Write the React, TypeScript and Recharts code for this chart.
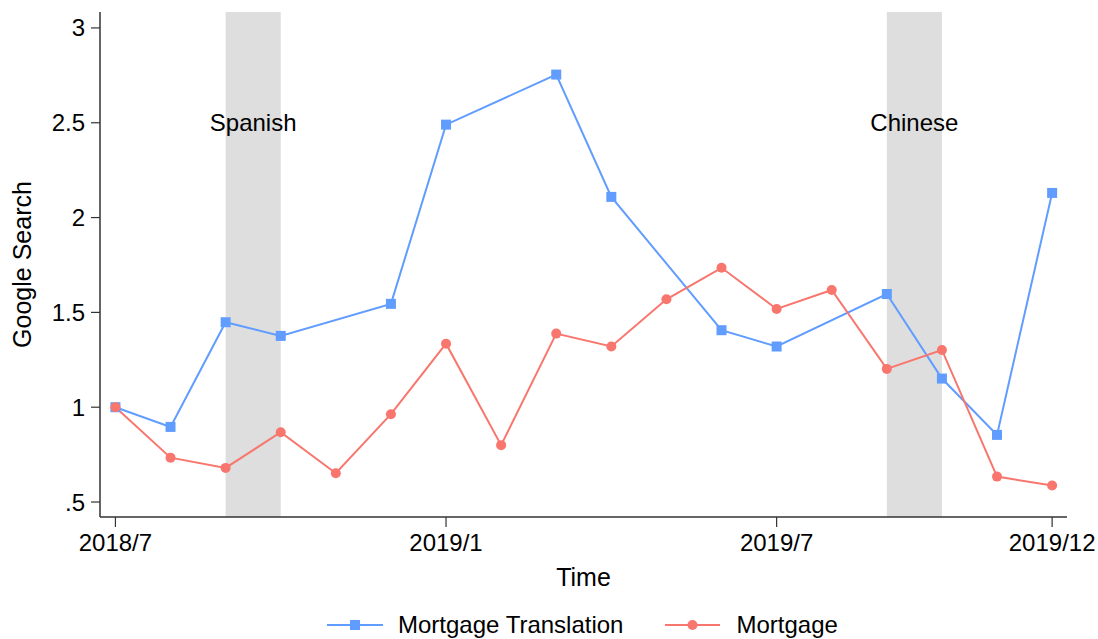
import React from 'react';
import { ComposedChart, Line, XAxis, YAxis, ReferenceArea, Legend } from 'recharts';

const monthLabels = [
  '2018/7', '2018/8', '2018/9', '2018/10', '2018/11', '2018/12',
  '2019/1', '2019/2', '2019/3', '2019/4', '2019/5', '2019/6',
  '2019/7', '2019/8', '2019/9', '2019/10', '2019/11', '2019/12',
];
const translationValues: (number | null)[] = [
  1.0, 0.896, 1.448, 1.376, null, 1.545,
  2.49, null, 2.754, 2.109, null, 1.406,
  1.32, null, 1.597, 1.151, 0.854, 2.13,
];
const mortgageValues: number[] = [
  1.0, 0.734, 0.68, 0.868, 0.652, 0.963,
  1.335, 0.8, 1.388, 1.32, 1.569, 1.735,
  1.518, 1.618, 1.202, 1.302, 0.634, 0.587,
];
const xTickLabels = ['2018/7', '2019/1', '2019/7', '2019/12'];
const yTicks = [0.5, 1, 1.5, 2, 2.5, 3];
const bandStarts = ['2018/9', '2019/9'];
const bandEnds = ['2018/10', '2019/10'];
const bandLabels = ['Spanish', 'Chinese'];

const BLUE = '#619CFF';
const RED = '#F8766D';
const FONT = '"Liberation Sans", Arial, sans-serif';

const data = monthLabels.map((m, i) => ({
  idx: i,
  month: m,
  translation: translationValues[i],
  mortgage: mortgageValues[i],
}));
const xTicks = xTickLabels.map((l) => monthLabels.indexOf(l));

const SquareDot = (props: any) => {
  const { cx, cy } = props;
  if (cx == null || cy == null || props.value == null) return null;
  return <rect x={cx - 5} y={cy - 5} width={10} height={10} fill={BLUE} />;
};
const CircleDot = (props: any) => {
  const { cx, cy } = props;
  if (cx == null || cy == null) return null;
  return <circle cx={cx} cy={cy} r={5} fill={RED} />;
};

const LegendContent = () => (
  <div style={{ display: 'flex', alignItems: 'center', height: 28, fontFamily: FONT, fontSize: 24, color: '#000', whiteSpace: 'nowrap' }}>
    <svg width={56} height={14} style={{ marginRight: 15 }}>
      <line x1={0} y1={7} x2={56} y2={7} stroke={BLUE} strokeWidth={2} />
      <rect x={23} y={2} width={10} height={10} fill={BLUE} />
    </svg>
    <span>Mortgage Translation</span>
    <svg width={55} height={14} style={{ marginLeft: 42, marginRight: 16 }}>
      <line x1={0} y1={7} x2={55} y2={7} stroke={RED} strokeWidth={2} />
      <circle cx={27.5} cy={7} r={5} fill={RED} />
    </svg>
    <span>Mortgage</span>
  </div>
);

export default function App() {
  return (
    <div style={{ position: 'fixed', left: 0, top: 0, width: 1098, height: 639, background: '#fff', fontFamily: FONT }}>
      <ComposedChart
        width={1098}
        height={639}
        data={data}
        margin={{ top: 12, right: 31, bottom: 0, left: 0 }}
      >
        <XAxis
          dataKey="idx"
          type="number"
          domain={[-0.28, 17.27]}
          ticks={xTicks}
          tickFormatter={(v: number) => monthLabels[v]}
          height={94}
          allowDataOverflow
          stroke="#333"
          strokeWidth={1.5}
          tickSize={10}
          tickMargin={7}
          tick={{ fill: '#000', fontSize: 24, fontFamily: FONT }}
          tickLine={{ stroke: '#333', strokeWidth: 1.2 }}
          label={{
            content: (p: any) => {
              const vb = p.viewBox;
              return (
                <text x={vb.x + vb.width / 2} y={577} textAnchor="middle" dominantBaseline="central" fontSize={25} fontFamily={FONT} fill="#000">
                  Time
                </text>
              );
            },
          }}
        />
        <YAxis
          type="number"
          domain={[0.421, 3.084]}
          ticks={yTicks}
          allowDataOverflow
          width={100}
          tickFormatter={(v: number) => (v === 0.5 ? '.5' : String(v))}
          stroke="#333"
          strokeWidth={1.5}
          tickSize={9}
          tickMargin={6}
          tick={{ fill: '#000', fontSize: 24, fontFamily: FONT }}
          tickLine={{ stroke: '#333', strokeWidth: 1.2 }}
          label={{
            content: (p: any) => {
              const vb = p.viewBox;
              const cy = vb.y + vb.height / 2;
              return (
                <text x={22} y={cy} transform={`rotate(-90 22 ${cy})`} textAnchor="middle" dominantBaseline="central" fontSize={25} fontFamily={FONT} fill="#000">
                  Google Search
                </text>
              );
            },
          }}
        />
        {bandStarts.map((s, i) => (
          <ReferenceArea
            key={s}
            x1={monthLabels.indexOf(s)}
            x2={monthLabels.indexOf(bandEnds[i])}
            y1={0.421}
            y2={3.084}
            fill="#DEDEDE"
            fillOpacity={1}
            stroke="none"
            ifOverflow="hidden"
            label={{ value: bandLabels[i], position: 'insideTop', offset: 102, fontSize: 24, fontFamily: FONT, fill: '#000' }}
          />
        ))}
        <Line
          type="linear"
          dataKey="translation"
          stroke={BLUE}
          strokeWidth={2}
          connectNulls
          dot={<SquareDot />}
          activeDot={false}
          isAnimationActive={false}
        />
        <Line
          type="linear"
          dataKey="mortgage"
          stroke={RED}
          strokeWidth={2}
          dot={<CircleDot />}
          activeDot={false}
          isAnimationActive={false}
        />
        <Legend
          verticalAlign="bottom"
          content={<LegendContent />}
          wrapperStyle={{ left: 327, bottom: 0, width: 'auto', height: 28 }}
        />
      </ComposedChart>
    </div>
  );
}
